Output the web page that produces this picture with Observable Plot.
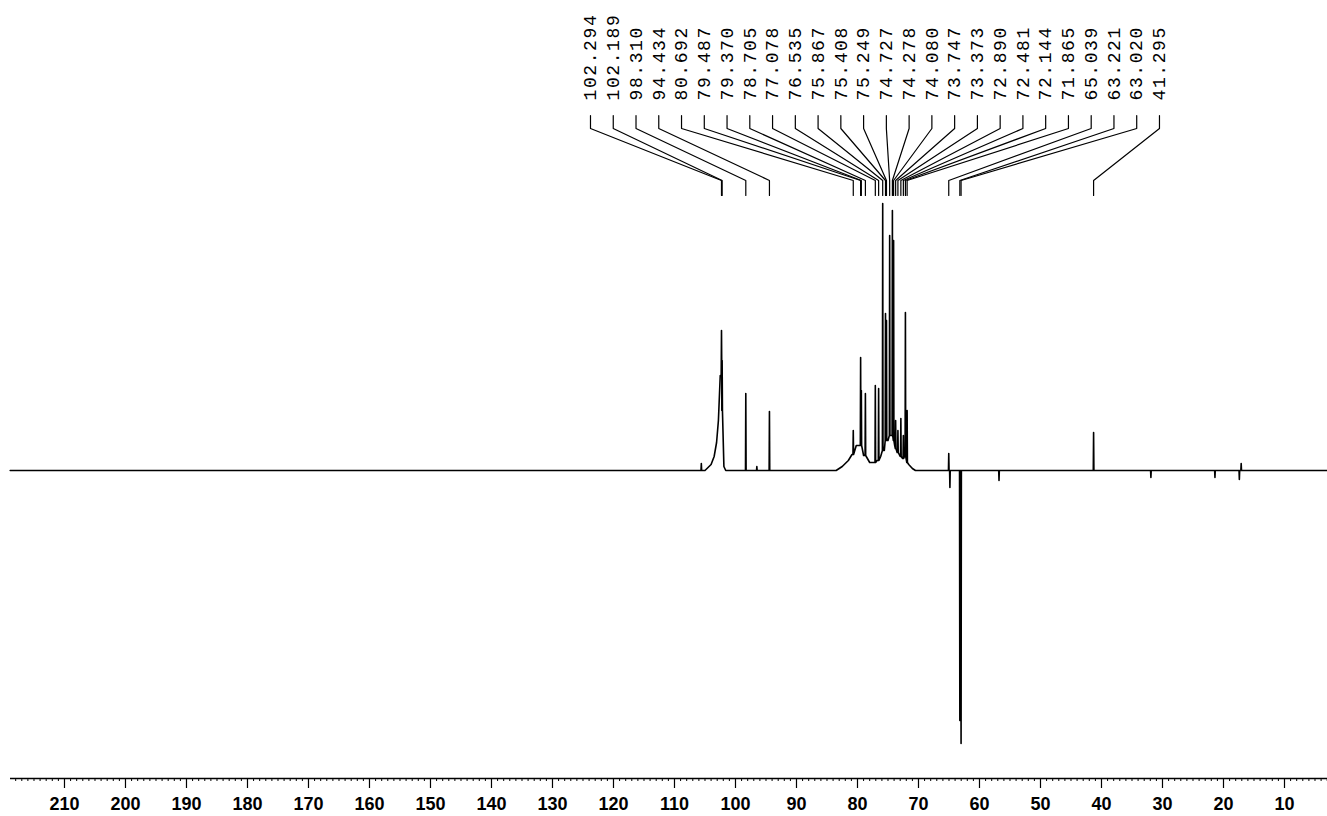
<!DOCTYPE html>
<html><head><meta charset="utf-8">
<script src="https://cdn.jsdelivr.net/npm/d3@7"></script>
<script src="https://cdn.jsdelivr.net/npm/@observablehq/plot@0.6"></script>
<style>
html,body{margin:0;padding:0;background:#fff;}
#chart svg{display:block;}
</style></head><body><div id="chart"></div>
<script>
// Labelled peaks (ppm), their read heights and the local base level under each
const peakPPM = [102.294, 102.189, 98.310, 94.434, 80.692, 79.487, 79.370, 78.705, 77.078, 76.535,
  75.867, 75.408, 75.249, 74.727, 74.278, 74.080, 73.747, 73.373, 72.890, 72.481, 72.144, 71.865,
  65.039, 63.221, 63.020, 41.295];
const peakLabels = ["102.294","102.189","98.310","94.434","80.692","79.487","79.370","78.705","77.078","76.535",
  "75.867","75.408","75.249","74.727","74.278","74.080","73.747","73.373","72.890","72.481","72.144","71.865",
  "65.039","63.221","63.020","41.295"];
const peakHeight = [140, 110, 77, 59, 40, 113, 80, 77, 85, 82,
  267, 157, 150, 235, 260, 230, 50, 40, 52, 35, 158, 60,
  17, -250, -273, 38];
const peakBase = [95, 60, 0, 0, 16, 25, 25, 15, 8, 10,
  20, 30, 30, 35, 35, 30, 22, 18, 14, 12, 14, 8,
  0, 0, 0, 0];
// Broad background under the peaks (ppm, intensity)
const backgroundPPM = [218.9, 105.0, 104.0, 103.5, 103.1, 102.8, 102.5, 101.9, 101.6,
  83.5, 82.5, 81.5, 80.9, 80.2, 79.0, 78.0, 77.5, 76.8, 76.2, 75.6, 75.0, 74.4, 73.9, 73.5, 73.0, 72.6, 72.3, 71.6, 71.0, 70.5, 2.9];
const backgroundInt = [0, 0, 6, 14, 28, 50, 95, 4, 0,
  0, 4, 10, 16, 25, 15, 8, 8, 10, 14, 20, 30, 35, 25, 18, 14, 12, 14, 6, 2, 0, 0];
// Small unlabelled features of the trace
const minorPPM = [105.6, 96.5, 64.85, 56.8, 31.9, 21.4, 17.4, 17.1];
const minorHeight = [7, 4, -17, -10, -7, -7, -9, 7];
// Axis ticks
const majorTicks = [210, 200, 190, 180, 170, 160, 150, 140, 130, 120, 110, 100, 90, 80, 70, 60, 50, 40, 30, 20, 10];
const minorTicks = d3.range(3, 219, 1);

const X_DOMAIN = [218.85, 2.95];
const Y_DOMAIN = [-308, 470];
const FOOT = 0.05;
const TEXT_Y = 370, LEAD_TOP = 355, LEAD_BEND1 = 342, LEAD_BEND2 = 290, LEAD_BOTTOM = 275;
const LABEL_START = 123.77, LABEL_STEP = 3.731;

// Build the trace from the read values
const trace = [];
backgroundPPM.forEach((p, i) => trace.push({ppm: p, v: backgroundInt[i]}));
peakPPM.forEach((p, i) => {
  trace.push({ppm: p + FOOT, v: peakBase[i]});
  trace.push({ppm: p, v: peakHeight[i]});
  trace.push({ppm: p - FOOT, v: peakBase[i]});
});
minorPPM.forEach((p, i) => {
  trace.push({ppm: p + FOOT, v: 0});
  trace.push({ppm: p, v: minorHeight[i]});
  trace.push({ppm: p - FOOT, v: 0});
});
trace.sort((a, b) => b.ppm - a.ppm);

const labelRows = peakLabels.map((t, i) => ({text: t, lx: LABEL_START - i * LABEL_STEP, px: peakPPM[i], i}));
const leaders = labelRows.flatMap(d => [
  {i: d.i, x: d.lx, y: LEAD_TOP},
  {i: d.i, x: d.lx, y: LEAD_BEND1},
  {i: d.i, x: d.px, y: LEAD_BEND2},
  {i: d.i, x: d.px, y: LEAD_BOTTOM}
]);

const chart = Plot.plot({
  width: 1327,
  height: 816,
  marginLeft: 10,
  marginRight: 0,
  marginTop: 0,
  marginBottom: 38,
  style: {background: "#fff", color: "#000"},
  x: {domain: X_DOMAIN},
  y: {domain: Y_DOMAIN, axis: null},
  marks: [
    Plot.ruleY([Y_DOMAIN[0]], {stroke: "#000", strokeWidth: 1.5}),
    Plot.ruleX(minorTicks, {x: d => d, y1: Y_DOMAIN[0], y2: Y_DOMAIN[0] - 3, stroke: "#000", strokeWidth: 1}),
    Plot.axisX(majorTicks, {anchor: "bottom", tickSize: 10, tickPadding: 9, fontSize: 18, fontWeight: "bold",
      fontFamily: "Liberation Sans", tickFormat: d => String(d), label: null, stroke: "#000", fill: "#000", strokeWidth: 1.2}),
    Plot.line(trace, {x: "ppm", y: "v", stroke: "#000", strokeWidth: 1.6, curve: "linear"}),
    Plot.line(leaders, {x: "x", y: "y", z: "i", stroke: "#000", strokeWidth: 1.2}),
    Plot.text(labelRows, {x: "lx", y: () => TEXT_Y, text: "text", rotate: -90, textAnchor: "start",
      fontFamily: "Liberation Mono", fontSize: 18, fill: "#000"})
  ]
});
chart.querySelectorAll('g[aria-label="text"]').forEach(g => g.style.letterSpacing = "1.6px");
document.getElementById("chart").appendChild(chart);
</script>
</body></html>
